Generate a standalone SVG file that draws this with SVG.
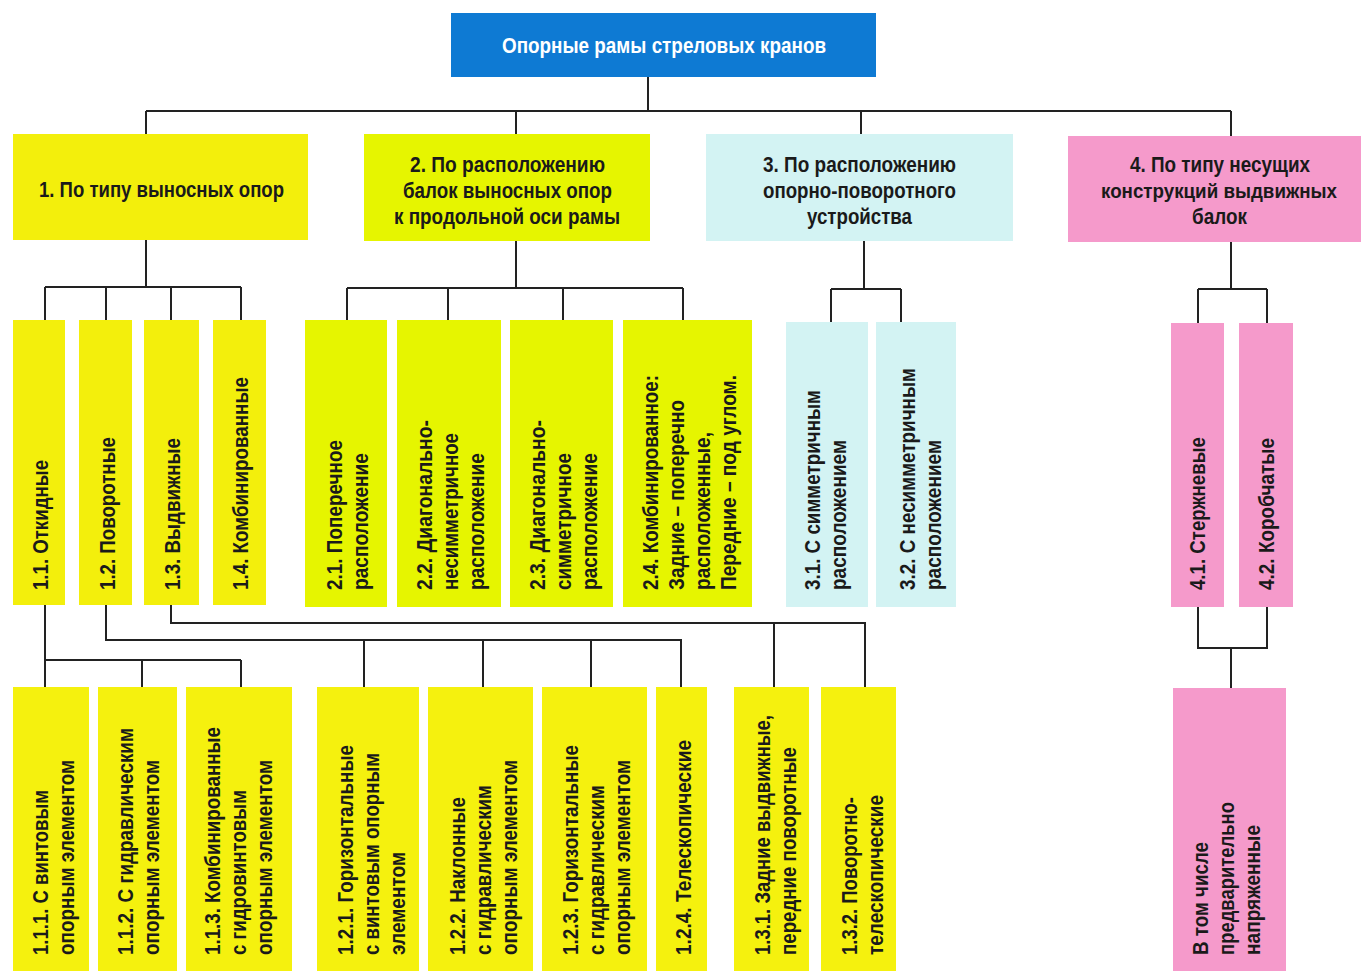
<svg xmlns="http://www.w3.org/2000/svg" width="1362" height="971" viewBox="0 0 1362 971">
<style>
text{font-family:"Liberation Sans",Arial,sans-serif;font-weight:bold;font-size:22px;fill:#1a1a1a}
.t{fill:#ffffff}
.blue{fill:#0e7ad3}
.y1{fill:#f3ef0c}
.y2{fill:#e6f500}
.y3{fill:#f5f10e}
.cy{fill:#d3f3f3}
.pk{fill:#f59acb}
.con{fill:none;stroke:#222;stroke-width:2}
</style>
<rect width="1362" height="971" fill="#ffffff"/>
<g id="connectors" class="con">
<path d="M648 77V111M146 111H1231M146 111V134M516 111V134M861 111V134M1231 111V136"/>
<path d="M146 240V287M45 287H241M45 287V320M106 287V320M171 287V320M241 287V320"/>
<path d="M516 241V288M347 288H683M347 288V320M448 288V320M563 288V320M683 288V320"/>
<path d="M864 241V289M831 289H901M831 289V322M901 289V322"/>
<path d="M1231 242V289M1198 289H1267M1198 289V323M1267 289V323"/>
<path d="M45 605V687M45 660H241M142 660V687M241 660V687"/>
<path d="M106 605V640H681V687M364 640V687M483 640V687M591 640V687"/>
<path d="M171 605V623H865V687M774 623V687"/>
<path d="M1198 607V648H1267V607M1231 648V688"/>
</g>
<g id="root"><rect class="blue" x="451" y="13" width="425" height="64"/><text class="t" x="502" y="53" textLength="324" lengthAdjust="spacingAndGlyphs">Опорные рамы стреловых кранов</text></g>
<g id="n1"><rect class="y1" x="13" y="134" width="295" height="106"/><text x="39" y="197" textLength="245" lengthAdjust="spacingAndGlyphs">1. По типу выносных опор</text></g>
<g id="n2"><rect class="y2" x="364" y="134" width="286" height="107"/>
<text x="410" y="172" textLength="195" lengthAdjust="spacingAndGlyphs">2. По расположению</text>
<text x="403" y="198" textLength="209" lengthAdjust="spacingAndGlyphs">балок выносных опор</text>
<text x="394" y="224" textLength="226" lengthAdjust="spacingAndGlyphs">к продольной оси рамы</text></g>
<g id="n3"><rect class="cy" x="706" y="134" width="307" height="107"/>
<text x="763" y="172" textLength="193" lengthAdjust="spacingAndGlyphs">3. По расположению</text>
<text x="763" y="198" textLength="193" lengthAdjust="spacingAndGlyphs">опорно-поворотного</text>
<text x="807" y="224" textLength="105" lengthAdjust="spacingAndGlyphs">устройства</text></g>
<g id="n4"><rect class="pk" x="1068" y="136" width="293" height="106"/>
<text x="1130" y="172" textLength="180" lengthAdjust="spacingAndGlyphs">4. По типу несущих</text>
<text x="1101" y="198" style="font-size:20.5px" textLength="236" lengthAdjust="spacingAndGlyphs">конструкций выдвижных</text>
<text x="1192" y="224" textLength="55" lengthAdjust="spacingAndGlyphs">балок</text></g>

<g id="n1_1"><rect class="y1" x="13" y="320" width="52" height="285"/><g transform="translate(48,590) rotate(-90)"><text textLength="130" lengthAdjust="spacingAndGlyphs">1.1. Откидные</text></g></g>
<g id="n1_2"><rect class="y1" x="79" y="320" width="53" height="285"/><g transform="translate(115,590) rotate(-90)"><text textLength="153" lengthAdjust="spacingAndGlyphs">1.2. Поворотные</text></g></g>
<g id="n1_3"><rect class="y1" x="144" y="320" width="55" height="285"/><g transform="translate(180,590) rotate(-90)"><text textLength="152" lengthAdjust="spacingAndGlyphs">1.3. Выдвижные</text></g></g>
<g id="n1_4"><rect class="y1" x="213" y="320" width="53" height="285"/><g transform="translate(248,590) rotate(-90)"><text textLength="213" lengthAdjust="spacingAndGlyphs">1.4. Комбинированные</text></g></g>

<g id="n2_1"><rect class="y2" x="305" y="320" width="82" height="287"/><g transform="translate(342,590) rotate(-90)"><text textLength="150" lengthAdjust="spacingAndGlyphs">2.1. Поперечное</text><text y="26" textLength="137" lengthAdjust="spacingAndGlyphs">расположение</text></g></g>
<g id="n2_2"><rect class="y2" x="397" y="320" width="104" height="287"/><g transform="translate(432,590) rotate(-90)"><text textLength="170" lengthAdjust="spacingAndGlyphs">2.2. Диагонально-</text><text y="26" textLength="157" lengthAdjust="spacingAndGlyphs">несимметричное</text><text y="52" textLength="137" lengthAdjust="spacingAndGlyphs">расположение</text></g></g>
<g id="n2_3"><rect class="y2" x="510" y="320" width="103" height="287"/><g transform="translate(545,590) rotate(-90)"><text textLength="170" lengthAdjust="spacingAndGlyphs">2.3. Диагонально-</text><text y="26" textLength="137" lengthAdjust="spacingAndGlyphs">симметричное</text><text y="52" textLength="137" lengthAdjust="spacingAndGlyphs">расположение</text></g></g>
<g id="n2_4"><rect class="y2" x="623" y="320" width="129" height="287"/><g transform="translate(658,590) rotate(-90)"><text textLength="215" lengthAdjust="spacingAndGlyphs">2.4. Комбинированное:</text><text y="26" textLength="190" lengthAdjust="spacingAndGlyphs">Задние – поперечно</text><text y="52" textLength="158" lengthAdjust="spacingAndGlyphs">расположенные,</text><text y="78" textLength="215" lengthAdjust="spacingAndGlyphs">Передние – под углом.</text></g></g>

<g id="n3_1"><rect class="cy" x="786" y="322" width="82" height="285"/><g transform="translate(820,590) rotate(-90)"><text textLength="200" lengthAdjust="spacingAndGlyphs">3.1. С симметричным</text><text y="26" textLength="150" lengthAdjust="spacingAndGlyphs">расположением</text></g></g>
<g id="n3_2"><rect class="cy" x="876" y="322" width="80" height="285"/><g transform="translate(915,590) rotate(-90)"><text textLength="222" lengthAdjust="spacingAndGlyphs">3.2. С несимметричным</text><text y="26" textLength="150" lengthAdjust="spacingAndGlyphs">расположением</text></g></g>

<g id="n4_1"><rect class="pk" x="1171" y="323" width="53" height="284"/><g transform="translate(1205,590) rotate(-90)"><text textLength="153" lengthAdjust="spacingAndGlyphs">4.1. Стержневые</text></g></g>
<g id="n4_2"><rect class="pk" x="1239" y="323" width="54" height="284"/><g transform="translate(1274,590) rotate(-90)"><text textLength="152" lengthAdjust="spacingAndGlyphs">4.2. Коробчатые</text></g></g>

<g id="n1_1_1"><rect class="y3" x="13" y="687" width="76" height="284"/><g transform="translate(48,955) rotate(-90)"><text textLength="165" lengthAdjust="spacingAndGlyphs">1.1.1. С винтовым</text><text y="26" textLength="195" lengthAdjust="spacingAndGlyphs">опорным элементом</text></g></g>
<g id="n1_1_2"><rect class="y3" x="98" y="687" width="79" height="284"/><g transform="translate(133,955) rotate(-90)"><text textLength="227" lengthAdjust="spacingAndGlyphs">1.1.2. С гидравлическим</text><text y="26" textLength="195" lengthAdjust="spacingAndGlyphs">опорным элементом</text></g></g>
<g id="n1_1_3"><rect class="y3" x="186" y="687" width="106" height="284"/><g transform="translate(220,955) rotate(-90)"><text textLength="228" lengthAdjust="spacingAndGlyphs">1.1.3. Комбинированные</text><text y="26" textLength="165" lengthAdjust="spacingAndGlyphs">с гидровинтовым</text><text y="52" textLength="195" lengthAdjust="spacingAndGlyphs">опорным элементом</text></g></g>
<g id="n1_2_1"><rect class="y3" x="317" y="687" width="102" height="284"/><g transform="translate(353,955) rotate(-90)"><text textLength="210" lengthAdjust="spacingAndGlyphs">1.2.1. Горизонтальные</text><text y="26" textLength="202" lengthAdjust="spacingAndGlyphs">с винтовым опорным</text><text y="52" textLength="103" lengthAdjust="spacingAndGlyphs">элементом</text></g></g>
<g id="n1_2_2"><rect class="y3" x="428" y="687" width="105" height="284"/><g transform="translate(465,955) rotate(-90)"><text textLength="158" lengthAdjust="spacingAndGlyphs">1.2.2. Наклонные</text><text y="26" textLength="170" lengthAdjust="spacingAndGlyphs">с гидравлическим</text><text y="52" textLength="195" lengthAdjust="spacingAndGlyphs">опорным элементом</text></g></g>
<g id="n1_2_3"><rect class="y3" x="542" y="687" width="105" height="284"/><g transform="translate(578,955) rotate(-90)"><text textLength="210" lengthAdjust="spacingAndGlyphs">1.2.3. Горизонтальные</text><text y="26" textLength="170" lengthAdjust="spacingAndGlyphs">с гидравлическим</text><text y="52" textLength="195" lengthAdjust="spacingAndGlyphs">опорным элементом</text></g></g>
<g id="n1_2_4"><rect class="y3" x="656" y="687" width="51" height="284"/><g transform="translate(691,955) rotate(-90)"><text textLength="215" lengthAdjust="spacingAndGlyphs">1.2.4. Телескопические</text></g></g>
<g id="n1_3_1"><rect class="y3" x="734" y="687" width="75" height="284"/><g transform="translate(770,955) rotate(-90)"><text textLength="240" lengthAdjust="spacingAndGlyphs">1.3.1. Задние выдвижные,</text><text y="26" textLength="208" lengthAdjust="spacingAndGlyphs">передние поворотные</text></g></g>
<g id="n1_3_2"><rect class="y3" x="821" y="687" width="75" height="284"/><g transform="translate(857,955) rotate(-90)"><text textLength="158" lengthAdjust="spacingAndGlyphs">1.3.2. Поворотно-</text><text y="26" textLength="160" lengthAdjust="spacingAndGlyphs">телескопические</text></g></g>
<g id="n4_x"><rect class="pk" x="1173" y="688" width="113" height="283"/><g transform="translate(1208,955) rotate(-90)"><text textLength="113" lengthAdjust="spacingAndGlyphs">В том числе</text><text y="26" textLength="153" lengthAdjust="spacingAndGlyphs">предварительно</text><text y="52" textLength="130" lengthAdjust="spacingAndGlyphs">напряженные</text></g></g>
</svg>
